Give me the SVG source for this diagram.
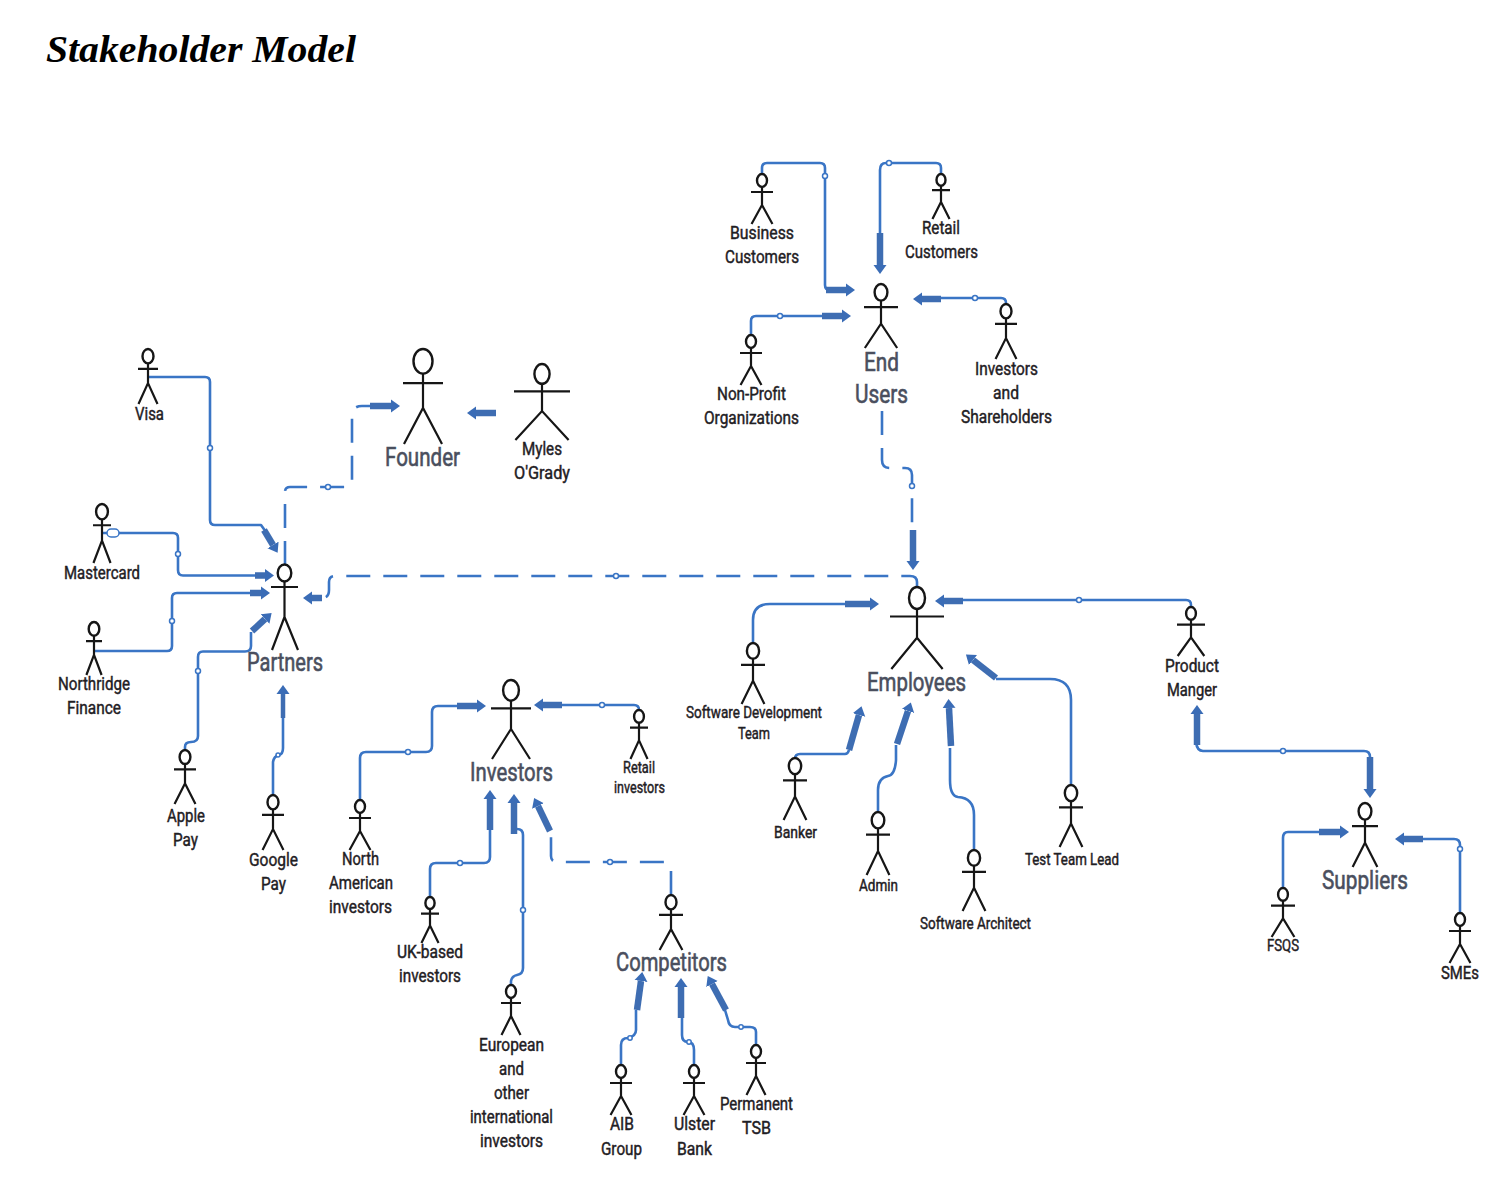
<svg xmlns="http://www.w3.org/2000/svg" width="1502" height="1200" viewBox="0 0 1502 1200">
<style>
text{font-family:Roboto,"Liberation Sans",sans-serif;text-anchor:middle;fill:#1f2024;font-size:18px;stroke:#1f2024;stroke-width:.45px}
.big{font-size:26px;fill:#4a4f5e;stroke:#4a4f5e;stroke-width:.6px}
.sm{font-size:16px}
.title{font-family:"Liberation Serif",serif;font-weight:bold;font-style:italic;font-size:38px;fill:#000;stroke:none;text-anchor:start}
.a{fill:none;stroke:#161616;stroke-width:2.2;vector-effect:non-scaling-stroke}
ellipse{fill:#fff;stroke:#161616;stroke-width:2.4}
.t{fill:none;stroke:#3a75c5;stroke-width:2.6;stroke-linejoin:round}
.d{stroke-dasharray:24 13;stroke-width:2.6}
.k{fill:none;stroke:#3e6db2;stroke-width:6.5;marker-end:url(#h)}
.w{fill:#fff;stroke:#3a75c5;stroke-width:1.5}
</style>
<defs>
<marker id="h" markerUnits="userSpaceOnUse" markerWidth="10" markerHeight="14" refX="0" refY="7" orient="auto" viewBox="0 0 10 14"><path d="M0 0.5L9 7L0 13.5Z" fill="#3a6cb6"/></marker>
<path id="actor" class="a" d="M-1 .36H1M0 .25V.62M-.95 1L0 .62L.95 1"/>
</defs>
<rect width="1502" height="1200" fill="#fff"/>
<text class="title" x="46" y="62" textLength="310" lengthAdjust="spacingAndGlyphs">Stakeholder Model</text>

<g id="connectors">
<path class="t" d="M148 377H205Q210 377 210 382V520Q210 525 215 525H261L266 532"/><path class="k" d="M264 530L273 545"/><circle class="w" cx="210" cy="448" r="2.5"/>
<path class="t" d="M102 533H173Q178 533 178 538V570Q178 575.500 183 575.500H258"/><path class="k" d="M255 575.500H265"/><circle class="w" cx="178" cy="554" r="2.500"/><rect class="w" x="107" y="529" width="12" height="8" rx="4"/>
<path class="t" d="M94 651H167Q172 651 172 646V598Q172 593 177 593H252"/><path class="k" d="M250 593H261"/><circle class="w" cx="172" cy="621" r="2.500"/>
<path class="t" d="M185 750V747Q185 742 191 742Q198 742 198 736V657Q198 651.500 203 651.500H245Q251 651.500 251 646V632"/><path class="k" d="M252 631L265 619"/><circle class="w" cx="198" cy="671" r="2.500"/>
<path class="t" d="M273 795V762Q274 756 279 755Q283 754 283 748V718"/><path class="k" style="stroke-width:4.500" d="M283 718V694"/><circle class="w" cx="278" cy="755" r="2"/>
<path class="t d" d="M285 565V492Q285 487 290 487H347Q352 487 352 482V416Q352 406 362 406H372"/><path class="k" d="M370 406H391"/><circle class="w" cx="328" cy="487" r="2.500"/>
<path class="k" d="M496 413H476"/>
<path class="t d" d="M917 587V582Q917 576 910 576H335Q329 576 329 582V590Q329 598 322 598H318"/><path class="k" d="M322 598H312"/><circle class="w" cx="616" cy="576" r="2.500"/>
<path class="t d" d="M882 411V460Q882 468 890 468H905Q912 468 912 475V535"/><path class="k" d="M913 530V561"/><circle class="w" cx="912" cy="486" r="2.500"/>
<path class="t" d="M762 174V168Q762 163 767 163H820Q825 163 825 168V285Q825 290 830 290"/><path class="k" d="M826 290H846"/><circle class="w" cx="825" cy="176" r="2.500"/>
<path class="t" d="M941 174V168Q941 163 936 163H886Q880 163 880 170V235"/><path class="k" d="M880 233V265"/><circle class="w" cx="889" cy="163" r="2.500"/>
<path class="t" d="M751 335V321Q751 316 756 316H825"/><path class="k" d="M822 316H842"/><circle class="w" cx="780" cy="316" r="2.500"/>
<path class="t" d="M1006 304V303Q1006 298 1001 298H938"/><path class="k" d="M941 299H922"/><circle class="w" cx="975" cy="298" r="2.500"/>
<path class="t" d="M753 643V620Q753 604 770 604H848"/><path class="k" d="M845 604H870"/>
<path class="t" d="M1191 607V605Q1191 600 1186 600H960"/><path class="k" d="M963 601H944"/><circle class="w" cx="1079" cy="600" r="2.500"/>
<path class="t" d="M795 758V759Q795 754 800 754H845Q848 754 849 750"/><path class="k" d="M849 750L859 715"/>
<path class="t" d="M878 812V790Q878 778 888 776Q895 775 896 760V745"/><path class="k" d="M897 744L908 711"/>
<path class="t" d="M974 850V815Q974 798 958 797Q950 796 950 780V748"/><path class="k" d="M951 746L949 708"/>
<path class="t" d="M1071 785V700Q1071 679 1050 679H996"/><path class="k" d="M996 678L973 660"/>
<path class="t" d="M1196 742Q1197 751 1203 751H1364Q1370 751 1370 757V760"/><path class="k" d="M1197 745V714"/><path class="k" d="M1370 757V789"/><circle class="w" cx="1283" cy="751" r="2.500"/>
<path class="t" d="M1283 888V838Q1283 832 1288 832H1322"/><path class="k" d="M1319 832H1340"/>
<path class="t" d="M1460 913V845Q1460 839 1454 839H1421"/><path class="k" d="M1423 839H1404"/><circle class="w" cx="1460" cy="849" r="2.500"/>
<path class="t" d="M360 800V758Q360 752 366 752H426Q432 752 432 746V712Q432 706 438 706H460"/><path class="k" d="M457 706H477"/><circle class="w" cx="408" cy="752" r="2.500"/>
<path class="t" d="M639 710Q639 705 634 705H560"/><path class="k" d="M562 705H543"/><circle class="w" cx="602" cy="705" r="2.500"/>
<path class="t" d="M430 897V869Q430 863 436 863H484Q490 863 490 857V828"/><path class="k" d="M490 830V799"/><circle class="w" cx="460" cy="863" r="2.500"/>
<path class="t" d="M511 985V981Q512 976 517 975Q523 974 523 968V835Q523 829 517 829H514"/><path class="k" d="M514 834V803"/><circle class="w" cx="523" cy="910" r="2.500"/>
<path class="t d" d="M671 895V870Q671 862 664 862H557Q551 862 551 856V832"/><path class="k" d="M550 831L538 806"/><circle class="w" cx="610" cy="862" r="2.500"/>
<path class="t" d="M621 1065V1045Q621 1038 628 1038Q636 1036 636 1030V1010"/><path class="k" d="M637 1010L641 981"/><circle class="w" cx="630" cy="1038" r="2.200"/>
<path class="t" d="M694 1065V1050Q694 1042 688 1042Q682 1042 682 1035V1018"/><path class="k" d="M681 1018V987"/><circle class="w" cx="689" cy="1042" r="2.200"/>
<path class="t" d="M756 1045V1032Q756 1027 750 1027H735Q729 1027 728 1020L725 1010"/><path class="k" d="M726 1010L712 984"/><circle class="w" cx="741" cy="1027" r="2.200"/>
</g>

<g id="visa"><use href="#actor" transform="translate(148 349) scale(10 55)"/><ellipse cx="148" cy="356.200" rx="5.500" ry="7.200"/><text x="149.500" y="420" textLength="29" lengthAdjust="spacingAndGlyphs">Visa</text></g>
<g id="mastercard"><use href="#actor" transform="translate(102 504) scale(9 59)"/><ellipse cx="102" cy="511.700" rx="5.900" ry="7.700"/><text x="102" y="579" textLength="76" lengthAdjust="spacingAndGlyphs">Mastercard</text></g>
<g id="northridge"><use href="#actor" transform="translate(94 622) scale(8 53)"/><ellipse cx="94" cy="628.900" rx="5.300" ry="6.900"/><text x="94" y="690" textLength="72" lengthAdjust="spacingAndGlyphs">Northridge</text><text x="94" y="714" textLength="54" lengthAdjust="spacingAndGlyphs">Finance</text></g>
<g id="apple"><use href="#actor" transform="translate(185 750) scale(11 54)"/><ellipse cx="185" cy="757" rx="5.400" ry="7"/><text x="186" y="822" textLength="38" lengthAdjust="spacingAndGlyphs">Apple</text><text x="185.500" y="846" textLength="25" lengthAdjust="spacingAndGlyphs">Pay</text></g>
<g id="google"><use href="#actor" transform="translate(273 795) scale(11 55)"/><ellipse cx="273" cy="802.200" rx="5.500" ry="7.200"/><text x="273.500" y="866" textLength="49" lengthAdjust="spacingAndGlyphs">Google</text><text x="273.500" y="890" textLength="25" lengthAdjust="spacingAndGlyphs">Pay</text></g>
<g id="partners"><path class="a" d="M271 587H298M284.500 581V617L272 650M284.500 617L298 650"/><ellipse cx="284.500" cy="573" rx="6.800" ry="8.500"/><text class="big" x="285" y="671" textLength="76" lengthAdjust="spacingAndGlyphs">Partners</text></g>
<g id="founder"><use href="#actor" transform="translate(423 349) scale(20 95)"/><ellipse cx="423" cy="361.300" rx="9.500" ry="12.300"/><text class="big" x="422.500" y="466" textLength="75" lengthAdjust="spacingAndGlyphs">Founder</text></g>
<g id="myles"><use href="#actor" transform="translate(542 364) scale(28 76)"/><ellipse cx="542" cy="373.900" rx="7.600" ry="9.900"/><text x="542" y="455" textLength="40" lengthAdjust="spacingAndGlyphs">Myles</text><text x="542" y="479" textLength="56" lengthAdjust="spacingAndGlyphs">O'Grady</text></g>
<g id="business"><use href="#actor" transform="translate(762 174) scale(11 50)"/><ellipse cx="762" cy="180.500" rx="5" ry="6.500"/><text x="762" y="239" textLength="64" lengthAdjust="spacingAndGlyphs">Business</text><text x="762" y="263" textLength="74" lengthAdjust="spacingAndGlyphs">Customers</text></g>
<g id="retail-customers"><use href="#actor" transform="translate(941 174) scale(9 45)"/><ellipse cx="941" cy="179.900" rx="4.500" ry="5.900"/><text x="941" y="234" textLength="38" lengthAdjust="spacingAndGlyphs">Retail</text><text x="941.500" y="258" textLength="73" lengthAdjust="spacingAndGlyphs">Customers</text></g>
<g id="end-users"><use href="#actor" transform="translate(881 284) scale(17 64)"/><ellipse cx="881" cy="292.300" rx="6.400" ry="8.300"/><text class="big" x="881.500" y="371" textLength="35" lengthAdjust="spacingAndGlyphs">End</text><text class="big" x="881.500" y="403" textLength="53" lengthAdjust="spacingAndGlyphs">Users</text></g>
<g id="non-profit"><use href="#actor" transform="translate(751 335) scale(11 50)"/><ellipse cx="751" cy="341.500" rx="5" ry="6.500"/><text x="751.500" y="400" textLength="69" lengthAdjust="spacingAndGlyphs">Non-Profit</text><text x="751.500" y="424" textLength="95" lengthAdjust="spacingAndGlyphs">Organizations</text></g>
<g id="shareholders"><use href="#actor" transform="translate(1006 304) scale(11 55)"/><ellipse cx="1006" cy="311.200" rx="5.500" ry="7.200"/><text x="1006.500" y="375" textLength="63" lengthAdjust="spacingAndGlyphs">Investors</text><text x="1006" y="399" textLength="26" lengthAdjust="spacingAndGlyphs">and</text><text x="1006.500" y="423" textLength="91" lengthAdjust="spacingAndGlyphs">Shareholders</text></g>
<g id="employees"><use href="#actor" transform="translate(917 587) scale(27 82)"/><ellipse cx="917" cy="598" rx="8" ry="11"/><text class="big" x="916.500" y="691" textLength="99" lengthAdjust="spacingAndGlyphs">Employees</text></g>
<g id="software-dev"><use href="#actor" transform="translate(753 643) scale(12 61)"/><ellipse cx="753" cy="650.900" rx="6.100" ry="7.900"/><text class="sm" x="754" y="718" textLength="136" lengthAdjust="spacingAndGlyphs">Software Development</text><text class="sm" x="754" y="739" textLength="32" lengthAdjust="spacingAndGlyphs">Team</text></g>
<g id="banker"><use href="#actor" transform="translate(795 758) scale(12 62)"/><ellipse cx="795" cy="766.100" rx="6.200" ry="8.100"/><text class="sm" x="795.500" y="838" textLength="43" lengthAdjust="spacingAndGlyphs">Banker</text></g>
<g id="admin"><use href="#actor" transform="translate(878 812) scale(12 63)"/><ellipse cx="878" cy="820.200" rx="6.300" ry="8.200"/><text class="sm" x="878.500" y="891" textLength="39" lengthAdjust="spacingAndGlyphs">Admin</text></g>
<g id="architect"><use href="#actor" transform="translate(974 850) scale(12 61)"/><ellipse cx="974" cy="857.900" rx="6.100" ry="7.900"/><text class="sm" x="975.500" y="929" textLength="111" lengthAdjust="spacingAndGlyphs">Software Architect</text></g>
<g id="test-lead"><use href="#actor" transform="translate(1071 785) scale(12 62)"/><ellipse cx="1071" cy="793.100" rx="6.200" ry="8.100"/><text class="sm" x="1072" y="865" textLength="94" lengthAdjust="spacingAndGlyphs">Test Team Lead</text></g>
<g id="product"><use href="#actor" transform="translate(1191 607) scale(14 49)"/><ellipse cx="1191" cy="613.400" rx="4.900" ry="6.400"/><text x="1192" y="672" textLength="54" lengthAdjust="spacingAndGlyphs">Product</text><text x="1192" y="696" textLength="50" lengthAdjust="spacingAndGlyphs">Manger</text></g>
<g id="suppliers"><use href="#actor" transform="translate(1365 803) scale(13 64)"/><ellipse cx="1365" cy="811.300" rx="6.400" ry="8.300"/><text class="big" x="1365" y="889" textLength="86" lengthAdjust="spacingAndGlyphs">Suppliers</text></g>
<g id="fsqs"><use href="#actor" transform="translate(1283 888) scale(12 49)"/><ellipse cx="1283" cy="894.400" rx="4.900" ry="6.400"/><text class="sm" x="1283" y="951" textLength="32" lengthAdjust="spacingAndGlyphs">FSQS</text></g>
<g id="smes"><use href="#actor" transform="translate(1460 913) scale(11 50)"/><ellipse cx="1460" cy="919.500" rx="5" ry="6.500"/><text x="1460" y="979" textLength="38" lengthAdjust="spacingAndGlyphs">SMEs</text></g>
<g id="investors"><use href="#actor" transform="translate(511 680) scale(20 79)"/><ellipse cx="511" cy="690.300" rx="7.900" ry="10.300"/><text class="big" x="511.500" y="781" textLength="83" lengthAdjust="spacingAndGlyphs">Investors</text></g>
<g id="retail-investors"><use href="#actor" transform="translate(639 710) scale(9 49)"/><ellipse cx="639" cy="716.400" rx="4.900" ry="6.400"/><text class="sm" x="639" y="773" textLength="32" lengthAdjust="spacingAndGlyphs">Retail</text><text class="sm" x="639.500" y="793" textLength="51" lengthAdjust="spacingAndGlyphs">investors</text></g>
<g id="north-american"><use href="#actor" transform="translate(360 800) scale(11 50)"/><ellipse cx="360" cy="806.500" rx="5" ry="6.500"/><text x="360.500" y="865" textLength="37" lengthAdjust="spacingAndGlyphs">North</text><text x="361" y="889" textLength="64" lengthAdjust="spacingAndGlyphs">American</text><text x="360.500" y="913" textLength="63" lengthAdjust="spacingAndGlyphs">investors</text></g>
<g id="uk-based"><use href="#actor" transform="translate(430 897) scale(9 46)"/><ellipse cx="430" cy="903" rx="4.600" ry="6"/><text x="430" y="958" textLength="66" lengthAdjust="spacingAndGlyphs">UK-based</text><text x="430" y="982" textLength="62" lengthAdjust="spacingAndGlyphs">investors</text></g>
<g id="european"><use href="#actor" transform="translate(511 985) scale(10 50)"/><ellipse cx="511" cy="991.500" rx="5" ry="6.500"/><text x="511.500" y="1051" textLength="65" lengthAdjust="spacingAndGlyphs">European</text><text x="511.500" y="1075" textLength="25" lengthAdjust="spacingAndGlyphs">and</text><text x="511.500" y="1099" textLength="35" lengthAdjust="spacingAndGlyphs">other</text><text x="511.500" y="1123" textLength="83" lengthAdjust="spacingAndGlyphs">international</text><text x="511.500" y="1147" textLength="63" lengthAdjust="spacingAndGlyphs">investors</text></g>
<g id="competitors"><use href="#actor" transform="translate(671 895) scale(12 55)"/><ellipse cx="671" cy="902.200" rx="5.500" ry="7.200"/><text class="big" x="671.500" y="971" textLength="111" lengthAdjust="spacingAndGlyphs">Competitors</text></g>
<g id="aib"><use href="#actor" transform="translate(621 1065) scale(11 50)"/><ellipse cx="621" cy="1071.500" rx="5" ry="6.500"/><text x="622" y="1130" textLength="24" lengthAdjust="spacingAndGlyphs">AIB</text><text x="621.500" y="1155" textLength="41" lengthAdjust="spacingAndGlyphs">Group</text></g>
<g id="ulster"><use href="#actor" transform="translate(694 1065) scale(11 50)"/><ellipse cx="694" cy="1071.500" rx="5" ry="6.500"/><text x="694.500" y="1130" textLength="41" lengthAdjust="spacingAndGlyphs">Ulster</text><text x="694.500" y="1155" textLength="35" lengthAdjust="spacingAndGlyphs">Bank</text></g>
<g id="permanent"><use href="#actor" transform="translate(756 1045) scale(10 50)"/><ellipse cx="756" cy="1051.500" rx="5" ry="6.500"/><text x="756.500" y="1110" textLength="73" lengthAdjust="spacingAndGlyphs">Permanent</text><text x="756.500" y="1134" textLength="29" lengthAdjust="spacingAndGlyphs">TSB</text></g>
</svg>
